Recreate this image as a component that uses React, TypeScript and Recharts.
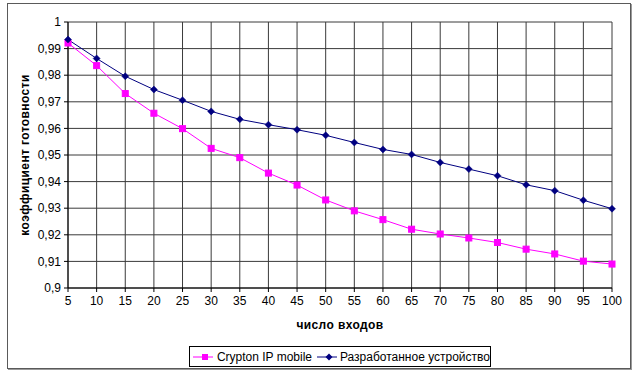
import React from "react";
import { LineChart, Line, XAxis, YAxis, CartesianGrid, Legend, Label } from "recharts";

const inputs = [5, 10, 15, 20, 25, 30, 35, 40, 45, 50, 55, 60, 65, 70, 75, 80, 85, 90, 95, 100];
const cryptonIP = [0.9921, 0.9836, 0.9731, 0.9657, 0.9599, 0.9525, 0.949, 0.9432, 0.9387, 0.9331, 0.929, 0.9257, 0.9221, 0.9203, 0.9188, 0.9171, 0.9146, 0.9128, 0.9101, 0.909];
const developed = [0.9934, 0.9863, 0.9796, 0.9746, 0.9706, 0.9664, 0.9634, 0.9614, 0.9595, 0.9574, 0.9547, 0.9521, 0.9502, 0.9472, 0.9447, 0.9422, 0.9388, 0.9366, 0.933, 0.9298];
const yTicks = [0.9, 0.91, 0.92, 0.93, 0.94, 0.95, 0.96, 0.97, 0.98, 0.99, 1];
const xTicks = inputs;
const seriesNames = ["Crypton IP mobile", "Разработанное устройство"];
const xTitle = "число входов";
const yTitle = "коэффициент готовности";

const data = inputs.map((x, i) => ({ x, a: cryptonIP[i], b: developed[i] }));

const PINK = "#FF00FF";
const NAVY = "#000080";
const FONT = "'Liberation Sans', Arial, sans-serif";

const fmtY = (v: number) => {
  const s = parseFloat(v.toFixed(2)).toString();
  return s.replace(".", ",");
};

const Square = (props: any) => {
  const { cx, cy, index } = props;
  if (cx == null || cy == null) return <g key={index} />;
  return <rect key={index} x={cx - 3} y={cy - 3} width={6} height={6} fill={PINK} stroke={PINK} />;
};

const Diamond = (props: any) => {
  const { cx, cy, index } = props;
  if (cx == null || cy == null) return <g key={index} />;
  return (
    <polygon
      key={index}
      points={`${cx},${cy - 3.5} ${cx + 3.5},${cy} ${cx},${cy + 3.5} ${cx - 3.5},${cy}`}
      fill={NAVY}
      stroke={NAVY}
      strokeWidth={0.5}
    />
  );
};

const LegendContent = () => (
  <div
    style={{
      boxSizing: "border-box",
      height: 21,
      width: 302,
      border: "1px solid #000",
      background: "#fff",
      display: "flex",
      alignItems: "center",
      fontFamily: FONT,
      fontSize: 12,
      color: "#000",
      paddingLeft: 3,
      whiteSpace: "nowrap",
    }}
  >
    <svg width={24} height={10} style={{ marginRight: 4 }}>
      <line x1={0} y1={5} x2={24} y2={5} stroke={PINK} strokeWidth={1} />
      <rect x={9} y={2} width={6} height={6} fill={PINK} />
    </svg>
    <span>{seriesNames[0]}</span>
    <svg width={24} height={10} style={{ marginLeft: 5, marginRight: 3 }}>
      <line x1={0} y1={5} x2={24} y2={5} stroke={NAVY} strokeWidth={1} />
      <polygon points="12,1.5 15.5,5 12,8.5 8.5,5" fill={NAVY} />
    </svg>
    <span>{seriesNames[1]}</span>
  </div>
);

export default function App() {
  return (
    <div style={{ position: "absolute", left: 0, top: 0, width: 635, height: 375, background: "#fff" }}>
      <div
        style={{
          position: "absolute",
          left: 7,
          top: 3,
          width: 622,
          height: 364,
          border: "1px solid #5a5a5a",
          boxShadow: "1px 1px 0 #9a9a9a",
        }}
      />
      <div style={{ position: "absolute", left: 0, top: 0 }}>
        <LineChart
          width={635}
          height={375}
          data={data}
          margin={{ top: 22, right: 23, left: 8, bottom: 8 }}
        >
          <CartesianGrid stroke="#3a3a3a" strokeWidth={1} />
          <XAxis
            dataKey="x"
            type="number"
            domain={[5, 100]}
            ticks={xTicks}
            interval={0}
            height={58}
            tickSize={4}
            tickMargin={4}
            axisLine={{ stroke: "#000" }}
            tickLine={{ stroke: "#000" }}
            tick={{ fill: "#000", fontSize: 12, fontFamily: FONT }}
          >
            <Label
              content={(p: any) => {
                const vb = p.viewBox || {};
                return (
                  <text
                    x={vb.x + vb.width / 2}
                    y={vb.y + 41}
                    textAnchor="middle"
                    fontFamily={FONT}
                    fontSize={12}
                    fontWeight="bold"
                    letterSpacing={0.4}
                    fill="#000"
                  >
                    {xTitle}
                  </text>
                );
              }}
            />
          </XAxis>
          <YAxis
            type="number"
            domain={[0.9, 1]}
            ticks={yTicks}
            interval={0}
            width={60}
            tickSize={4}
            tickMargin={3}
            tickFormatter={fmtY}
            axisLine={{ stroke: "#000" }}
            tickLine={{ stroke: "#000" }}
            tick={{ fill: "#000", fontSize: 12, fontFamily: FONT }}
          >
            <Label
              content={(p: any) => {
                const vb = p.viewBox || {};
                const cx = 29;
                const cy = vb.y + vb.height / 2;
                return (
                  <text
                    x={cx}
                    y={cy}
                    transform={`rotate(-90 ${cx} ${cy})`}
                    textAnchor="middle"
                    fontFamily={FONT}
                    fontSize={12}
                    fontWeight="bold"
                    letterSpacing={0.4}
                    fill="#000"
                  >
                    {yTitle}
                  </text>
                );
              }}
            />
          </YAxis>
          <Legend
            verticalAlign="bottom"
            content={<LegendContent />}
            wrapperStyle={{ left: 189, bottom: 8, width: 302, height: 21 }}
          />
          <Line
            type="linear"
            dataKey="a"
            name={seriesNames[0]}
            stroke={PINK}
            strokeWidth={1}
            dot={<Square />}
            activeDot={false}
            isAnimationActive={false}
          />
          <Line
            type="linear"
            dataKey="b"
            name={seriesNames[1]}
            stroke={NAVY}
            strokeWidth={1}
            dot={<Diamond />}
            activeDot={false}
            isAnimationActive={false}
          />
        </LineChart>
      </div>
    </div>
  );
}
